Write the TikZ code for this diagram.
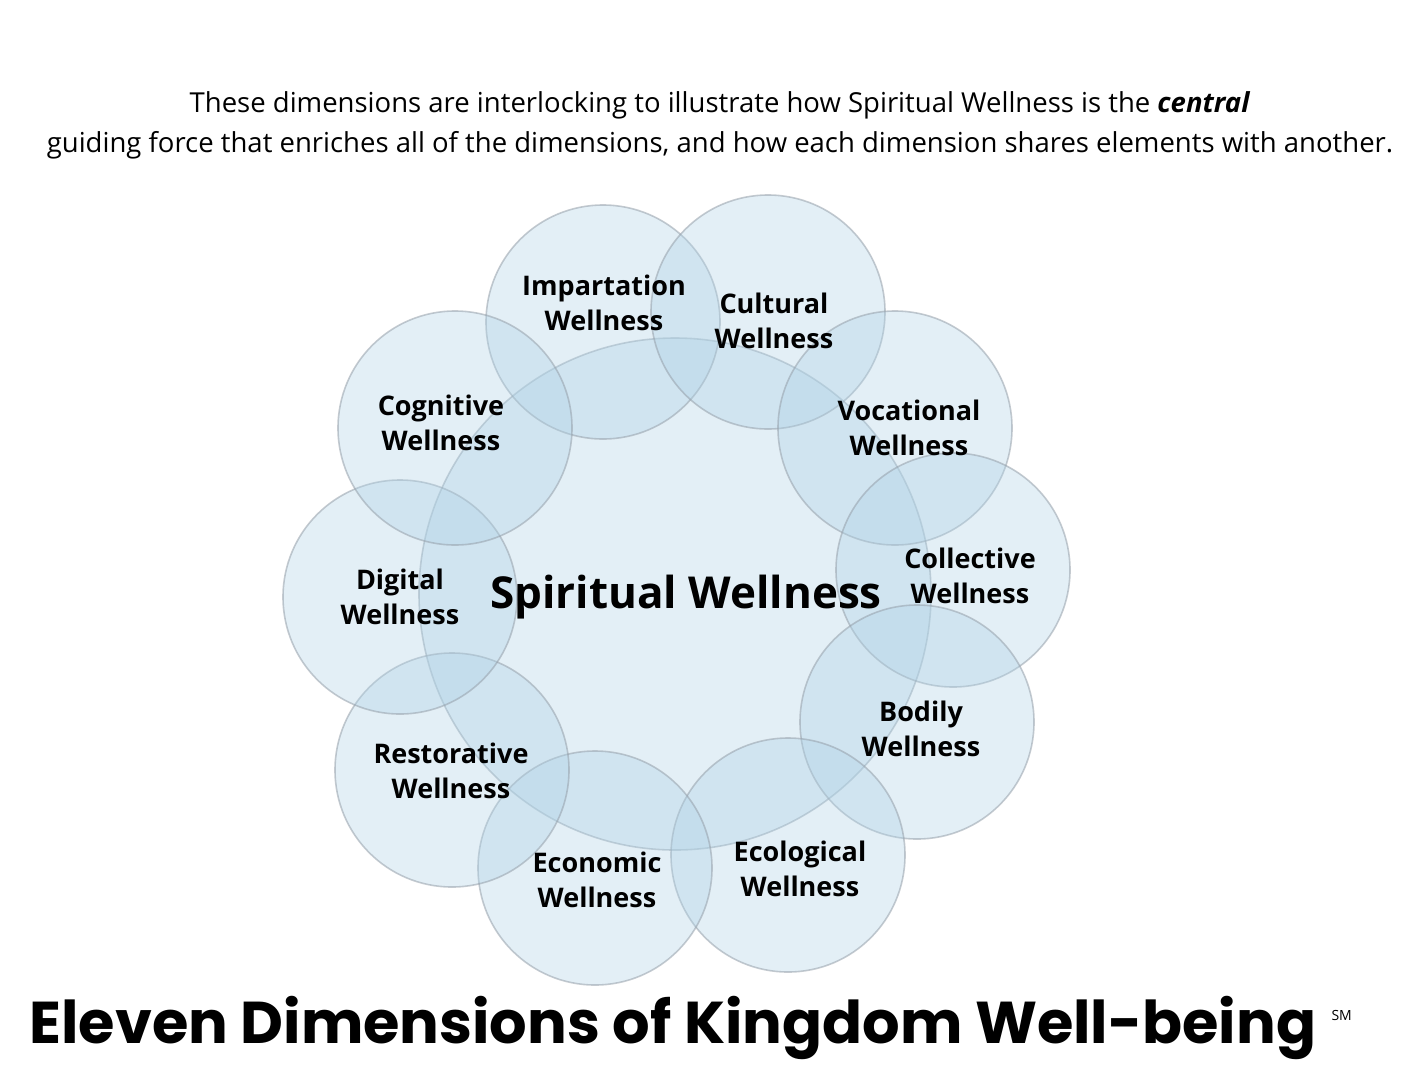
\documentclass[tikz,border=0pt]{standalone}
\usepackage{fontspec}
\setmainfont{Open Sans}
\newfontfamily\titlefont{Poppins}[UprightFont=* Bold]
\begin{document}
\begin{tikzpicture}[x=1pt,y=-1pt,
  circ/.style={circle,draw={rgb,255:red,150;green,160;blue,170},line width=1.6pt,fill={rgb,255:red,175;green,210;blue,230},fill opacity=0.35,draw opacity=0.55,minimum size=#1,inner sep=0pt},
  lab/.style={font=\bfseries\fontsize{27}{35}\selectfont,align=center,text=black}]
\useasboundingbox (0,0) rectangle (1407,1080);
\fill[white] (0,0) rectangle (1407,1080);
\node[circ=512pt] (c) at (675,594) {};
\foreach \n/\x/\y in {imp/603/322,cul/768/312,voc/895/428,col/953/570,bod/917/722,eco/788/855,econ/595/868,res/452/770,dig/400/597,cog/455/428}
  \node[circ=234pt] (\n) at (\x,\y) {};
\node[lab] at (604,303) {Impartation\\Wellness};
\node[lab] at (774,321) {Cultural\\Wellness};
\node[lab] at (909,428) {Vocational\\Wellness};
\node[lab] at (970,576) {Collective\\Wellness};
\node[lab] at (921,729) {Bodily\\Wellness};
\node[lab] at (800,869) {Ecological\\Wellness};
\node[lab] at (597,880) {Economic\\Wellness};
\node[lab] at (451,771) {Restorative\\Wellness};
\node[lab] at (400,597) {Digital\\Wellness};
\node[lab] at (441,423) {Cognitive\\Wellness};
\node[font=\bfseries\fontsize{44}{50}\selectfont] (sw) at (686,597) {Spiritual Wellness};
\node[font=\fontsize{27.5}{40}\selectfont,align=center] (top) at (720,125) {These dimensions are interlocking to illustrate how Spiritual Wellness is the \textbf{\textit{central}}\\ guiding force that enriches all of the dimensions, and how each dimension shares elements with another.};
\node[font=\titlefont\fontsize{59}{66}\selectfont,anchor=west] (title) at (26,1028) {Eleven Dimensions of Kingdom Well-being};
\node[font=\fontsize{14}{15}\selectfont,anchor=west] (sm) at (1328,1015) {SM};
\end{tikzpicture}
\end{document}
